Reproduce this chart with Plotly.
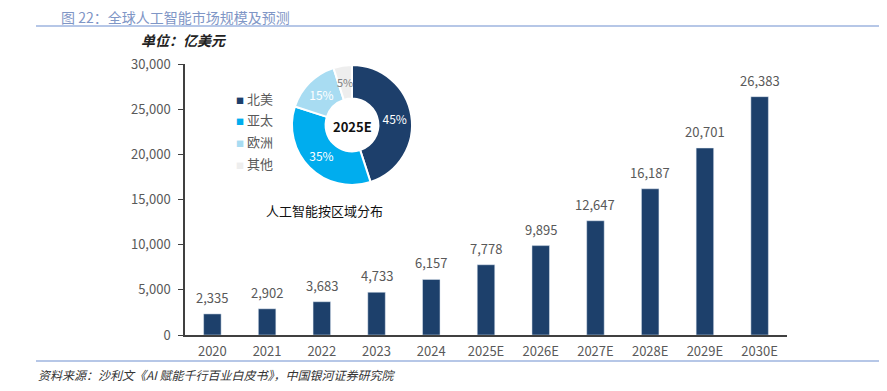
import math
import plotly.graph_objects as go

# ---- data ----
years = ["2020", "2021", "2022", "2023", "2024", "2025E", "2026E", "2027E", "2028E", "2029E", "2030E"]
market_size = [2335, 2902, 3683, 4733, 6157, 7778, 9895, 12647, 16187, 20701, 26383]
regions = ["北美", "亚太", "欧洲", "其他"]
region_share = [45, 35, 15, 5]
region_colors = ["#1D3F6B", "#00ADEE", "#A8DCF2", "#EEEEEE"]
region_text_colors = ["#FFFFFF", "#FFFFFF", "#FFFFFF", "#7F7F7F"]
y_ticks = [0, 5000, 10000, 15000, 20000, 25000, 30000]

# page body has an 8px margin: figure drawn at (8, 8) in the window
OFF = 8
W, H = 887 - 2 * OFF, 391 - 2 * OFF
PL, PR, PT, PB = 185, 787, 64, 335          # plot area in window pixels
ML, MR, MT, MB = PL - OFF, W - (PR - OFF), PT - OFF, H - (PB - OFF)
PW, PH = PR - PL, PB - PT

def px(x):
    return (x - PL) / PW

def py(y):
    return (PB - y) / PH

CN = "Noto Sans CJK SC"
GRAY = "#595959"

fig = go.Figure()
fig.add_trace(go.Bar(
    x=years, y=market_size, marker_color="#1D406B", width=0.32,
    showlegend=False, hoverinfo="x+y",
))

for i, v in enumerate(market_size):
    fig.add_annotation(x=i, y=v, text=f"{v:,}", showarrow=False, xanchor="center",
                       yanchor="bottom", yshift=5, font=dict(family=CN, size=13, color=GRAY))

# donut
PIE_CX, PIE_CY, PIE_R, HOLE = 352, 125, 60, 0.44
small = [s < 10 for s in region_share]
fig.add_trace(go.Pie(
    labels=regions, values=region_share, hole=HOLE, sort=False, direction="clockwise",
    rotation=0, marker=dict(colors=region_colors, line=dict(color="white", width=2)),
    texttemplate=["" if sm else "%{value}%" for sm in small], textposition="inside",
    insidetextorientation="horizontal",
    textfont=dict(family=CN, size=12, color=region_text_colors),
    domain=dict(x=[px(PIE_CX - PIE_R), px(PIE_CX + PIE_R)],
                y=[py(PIE_CY + PIE_R), py(PIE_CY - PIE_R)]),
    showlegend=False,
))
# labels of slices too thin for plotly's inside text, placed at slice mid-angle
total = sum(region_share)
cum = 0
for s, sm, tc in zip(region_share, small, region_text_colors):
    mid = (cum + s / 2) / total * 2 * math.pi
    cum += s
    if sm:
        rm = PIE_R * (1 + HOLE) / 2
        fig.add_annotation(xref="paper", yref="paper",
                           x=px(PIE_CX + rm * math.sin(mid)), y=py(PIE_CY - rm * math.cos(mid)),
                           text=f"{s}%", showarrow=False, xanchor="center", yanchor="middle",
                           font=dict(family=CN, size=11, color=tc))

# pie legend
for i, (name, c) in enumerate(zip(regions, region_colors)):
    fig.add_annotation(xref="paper", yref="paper", x=px(234), y=py(98 + i * 21.7),
                       xanchor="left", yanchor="middle", showarrow=False,
                       text=f"<span style='color:{c};font-size:8px'>■</span> {name}",
                       font=dict(family=CN, size=13, color=GRAY))

fig.add_annotation(xref="paper", yref="paper", x=px(PIE_CX), y=py(PIE_CY + 1), text="<b>2025E</b>",
                   xanchor="center", yanchor="middle",
                   showarrow=False, font=dict(family=CN, size=13, color="#111111"))
fig.add_annotation(xref="paper", yref="paper", x=px(324), y=py(210), text="人工智能按区域分布",
                   xanchor="center", yanchor="middle",
                   showarrow=False, font=dict(family=CN, size=13, color="#111111"))

# headers / footer
fig.add_annotation(xref="paper", yref="paper", x=px(59), y=py(17), xanchor="left",
                   yanchor="middle", text="图 22：全球人工智能市场规模及预测", showarrow=False,
                   font=dict(family=CN, size=14, color="#7F96C6"))
fig.add_annotation(xref="paper", yref="paper", x=px(139), y=py(40), xanchor="left",
                   yanchor="middle", text="<b><i>单位：亿美元</i></b>", showarrow=False,
                   font=dict(family=CN, size=14, color="#222222"))
fig.add_annotation(xref="paper", yref="paper", x=px(36), y=py(374), xanchor="left",
                   yanchor="middle",
                   text="<i>资料来源：沙利文《AI 赋能千行百业白皮书》，中国银河证券研究院</i>",
                   showarrow=False, font=dict(family=CN, size=12, color="#333333"))
for yy in (26, 361):
    fig.add_shape(type="line", xref="paper", yref="paper", x0=px(36), x1=px(882),
                  y0=py(yy), y1=py(yy), line=dict(color="#6F8FCF", width=1.2))

fig.update_layout(
    width=W, height=H, margin=dict(l=ML, r=MR, t=MT, b=MB, pad=0),
    paper_bgcolor="white", plot_bgcolor="white",
    font=dict(family=CN, size=13, color=GRAY),
    xaxis=dict(type="category", range=[-0.5, len(years) - 0.5], showline=True,
               linecolor="#404040", linewidth=1.5, ticks="", ticklabelstandoff=4,
               tickfont=dict(size=13, color=GRAY), showgrid=False, fixedrange=True),
    yaxis=dict(range=[0, 30000], tickvals=y_ticks, tickformat=",", showline=True,
               linecolor="#404040", linewidth=1.5, ticks="outside", ticklen=5,
               tickcolor="#404040", showgrid=False, zeroline=False, ticklabelstandoff=5,
               tickfont=dict(size=13, color=GRAY), fixedrange=True),
    showlegend=False,
)

fig.write_html("out.html")
